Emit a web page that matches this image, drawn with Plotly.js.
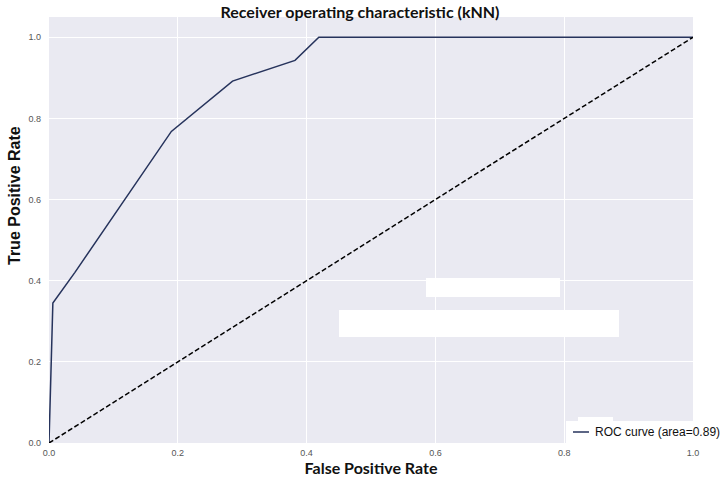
<!DOCTYPE html>
<html>
<head>
<meta charset="utf-8">
<script src="https://cdn.plot.ly/plotly-3.0.1.min.js"></script>
<style>html,body{margin:0;padding:0;background:#fff;}#chart{width:721px;height:480px;}</style>
</head>
<body>
<div id="chart"></div>
<script>
const fpr = [0.0, 0.006, 0.04, 0.105, 0.19, 0.285, 0.382, 0.419, 1.0];
const tpr = [0.0, 0.345, 0.42, 0.57, 0.768, 0.892, 0.943, 1.0, 1.0];
const chanceX = [0, 1];
const chanceY = [0, 1];
const tickVals = [0, 0.2, 0.4, 0.6, 0.8, 1.0];
const tickText = ["0.0", "0.2", "0.4", "0.6", "0.8", "1.0"];
const rocLabel = "ROC curve (area=0.89)";
const rocColor = '#26335c';

const traces = [
  {x: fpr, y: tpr, type: 'scatter', mode: 'lines', name: rocLabel, showlegend: false,
   line: {color: rocColor, width: 1.5}},
  {x: chanceX, y: chanceY, type: 'scatter', mode: 'lines', showlegend: false,
   line: {color: '#000000', width: 1.5, dash: '5px,2.5px'}}
];

// pixel helpers for plot area (l=49, r=693, t=17, b=443)
const px = v => (v - 49) / 644;
const py = v => (443 - v) / 426;

const layout = {
  width: 721, height: 480,
  margin: {l: 49, r: 28, t: 17, b: 37, pad: 0},
  paper_bgcolor: '#ffffff',
  plot_bgcolor: '#eaeaf2',
  font: {family: 'Liberation Sans, Arial, sans-serif', color: '#444'},
  title: {text: 'Receiver operating characteristic (kNN)', x: 360/721, xref: 'container', xanchor: 'center',
          y: 1 - 12/480, yref: 'container', yanchor: 'middle',
          font: {family: 'Lato, sans-serif', size: 16, color: '#111', weight: 'bold'}},
  xaxis: {range: [0, 1], tickvals: tickVals, ticktext: tickText, showgrid: true, gridcolor: '#ffffff', gridwidth: 1,
          zeroline: false, showline: false, ticks: '', ticklabelstandoff: 3, tickfont: {size: 9, color: '#555'},
          title: {text: 'False Positive Rate', standoff: 2, font: {family: 'Lato, sans-serif', size: 16, color: '#111', weight: 'bold'}}},
  yaxis: {range: [0, 1.05], tickvals: tickVals, ticktext: tickText, showgrid: true, gridcolor: '#ffffff', gridwidth: 1,
          zeroline: false, showline: false, ticks: '', ticklabelstandoff: 7, tickfont: {size: 9, color: '#555'}},
  annotations: [
    {text: '<b>True Positive Rate</b>', textangle: -90, xref: 'paper', yref: 'paper',
     x: px(15), xanchor: 'center', y: py(196), yanchor: 'middle', showarrow: false,
     font: {family: 'Liberation Sans', size: 16, color: '#111'}},
    {text: rocLabel, xref: 'paper', yref: 'paper', x: px(593), xanchor: 'left', y: py(432), yanchor: 'middle',
     showarrow: false, font: {family: 'Liberation Sans, Arial, sans-serif', size: 12, color: '#111'}}
  ],
  shapes: [
    {type: 'rect', xref: 'paper', yref: 'paper', x0: px(426), x1: px(560), y0: py(297), y1: py(278),
     fillcolor: '#ffffff', line: {width: 0}, layer: 'above'},
    {type: 'rect', xref: 'paper', yref: 'paper', x0: px(339), x1: px(619), y0: py(337), y1: py(310),
     fillcolor: '#ffffff', line: {width: 0}, layer: 'above'},
    {type: 'rect', xref: 'paper', yref: 'paper', x0: px(578), x1: px(613), y0: py(424), y1: py(417),
     fillcolor: '#ffffff', line: {width: 0}, layer: 'above'},
    {type: 'rect', xref: 'paper', yref: 'paper', x0: px(566), x1: px(693), y0: py(443), y1: py(421),
     fillcolor: '#ffffff', line: {width: 0}, layer: 'above'},
    {type: 'line', xref: 'paper', yref: 'paper', x0: px(573), x1: px(589), y0: py(432), y1: py(432),
     line: {color: rocColor, width: 1.5}, layer: 'above'}
  ],
  showlegend: false
};

Plotly.newPlot('chart', traces, layout, {displayModeBar: false, staticPlot: true});
</script>
</body>
</html>
